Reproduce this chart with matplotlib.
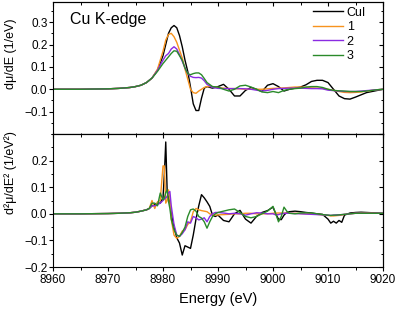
import numpy as np
import matplotlib
matplotlib.use('Agg')
import matplotlib.pyplot as plt
from matplotlib.ticker import MultipleLocator

plt.rcParams.update({
    'font.family': ['Liberation Sans', 'DejaVu Sans'],
    'font.size': 8.5,
    'axes.linewidth': 0.8,
})

# first derivative, dmu/dE
energy_top = [8960, 8965, 8970, 8972, 8974, 8975, 8976, 8977, 8978, 8979,
              8980, 8980.5, 8981, 8981.5, 8982, 8982.5, 8983, 8983.5, 8984, 8984.5,
              8985, 8985.5, 8986, 8986.5, 8987, 8987.5, 8988, 8989, 8990, 8991,
              8992, 8993, 8994, 8995, 8996, 8997, 8998, 8999, 9000, 9001,
              9002, 9003, 9004, 9005, 9006, 9007, 9008, 9009, 9010, 9011,
              9012, 9013, 9014, 9015, 9016, 9017, 9018, 9019, 9020]
cui_top = [0, 0, 0.002, 0.004, 0.008, 0.012, 0.018, 0.03, 0.05, 0.085,
           0.15, 0.20, 0.25, 0.275, 0.285, 0.275, 0.24, 0.19, 0.13, 0.08,
           0.01, -0.065, -0.095, -0.095, -0.04, 0.005, 0.012, 0.005, 0.012, 0.022,
           0.0, -0.03, -0.03, -0.005, 0.008, 0.0, -0.01, 0.018, 0.025, 0.012,
           -0.008, 0.0, 0.005, 0.01, 0.02, 0.035, 0.04, 0.04, 0.03, 0.0,
           -0.03, -0.042, -0.044, -0.035, -0.025, -0.015, -0.01, -0.005, 0.0]
s1_top = [0, 0, 0.002, 0.004, 0.008, 0.012, 0.018, 0.03, 0.05, 0.09,
          0.17, 0.22, 0.245, 0.25, 0.235, 0.21, 0.175, 0.14, 0.09, 0.045,
          0.0, -0.015, -0.018, -0.008, 0.0, 0.008, 0.012, 0.012, 0.008, 0.005,
          0.003, 0.003, 0.002, 0.0, 0.0, 0.0, 0.0, 0.002, 0.004, 0.005,
          0.006, 0.008, 0.01, 0.01, 0.008, 0.006, 0.005, 0.004, 0.0, -0.005,
          -0.01, -0.014, -0.015, -0.014, -0.012, -0.008, -0.005, -0.002, 0.0]
s2_top = [0, 0, 0.002, 0.004, 0.008, 0.012, 0.018, 0.03, 0.05, 0.085,
          0.13, 0.15, 0.16, 0.18, 0.19, 0.18, 0.155, 0.125, 0.095, 0.07,
          0.058, 0.053, 0.052, 0.053, 0.05, 0.038, 0.022, 0.008, 0.004, 0.003,
          0.003, 0.003, 0.003, 0.002, 0.0, -0.004, -0.008, -0.005, 0.0, 0.003,
          0.004, 0.005, 0.005, 0.005, 0.004, 0.003, 0.003, 0.002, -0.004, -0.006,
          -0.008, -0.01, -0.01, -0.01, -0.008, -0.006, -0.004, -0.002, 0.0]
s3_top = [0, 0, 0.002, 0.004, 0.008, 0.012, 0.018, 0.03, 0.05, 0.08,
          0.115, 0.13, 0.145, 0.16, 0.172, 0.17, 0.15, 0.13, 0.095, 0.07,
          0.065, 0.07, 0.073, 0.073, 0.065, 0.048, 0.03, 0.012, 0.01, 0.0,
          -0.008, 0.0, 0.015, 0.018, 0.01, 0.0, -0.012, -0.015, -0.01, -0.015,
          -0.005, 0.0, 0.003, 0.005, 0.01, 0.012, 0.012, 0.008, 0.0, -0.005,
          -0.007, -0.008, -0.01, -0.01, -0.01, -0.008, -0.005, -0.002, 0.0]

# second derivative, d2mu/dE2
energy_bot = [8960, 8965, 8970, 8972, 8974, 8975, 8976, 8977, 8977.5, 8978,
              8978.5, 8979, 8979.5, 8980, 8980.25, 8980.5, 8980.75, 8981, 8981.25, 8981.5,
              8982, 8982.5, 8983, 8983.5, 8984, 8984.5, 8985, 8985.5, 8986, 8986.5,
              8987, 8987.5, 8988, 8988.5, 8989, 8989.5, 8990, 8991, 8992, 8993,
              8994, 8995, 8996, 8997, 8998, 8999, 9000, 9000.5, 9001, 9001.5,
              9002, 9002.5, 9003, 9004, 9005, 9006, 9007, 9008, 9009, 9010,
              9010.5, 9011, 9011.5, 9012, 9012.5, 9013, 9014, 9015, 9016, 9017,
              9018, 9019, 9020]
cui_bot = [0, 0, 0.001, 0.002, 0.004, 0.006, 0.01, 0.015, 0.02, 0.03,
           0.035, 0.04, 0.04, 0.06, 0.15, 0.27, 0.09, 0.06, 0.045, 0.0,
           -0.05, -0.09, -0.11, -0.155, -0.12, -0.125, -0.13, -0.08, -0.02, 0.03,
           0.072, 0.06, 0.045, 0.028, -0.005, -0.01, -0.005, -0.025, -0.03, 0.0,
           0.013, -0.02, -0.035, -0.01, 0.005, 0.012, 0.025, 0.0, -0.02, -0.022,
           -0.005, 0.005, 0.008, 0.01, 0.008, 0.005, 0.003, 0.0, -0.002, -0.02,
           -0.035, -0.028, -0.035, -0.025, -0.032, -0.005, 0.003, 0.005, 0.006, 0.005,
           0.004, 0.003, 0.002]
s1_bot = [0, 0, 0.001, 0.002, 0.004, 0.006, 0.01, 0.015, 0.02, 0.05,
          0.02, 0.045, 0.05, 0.18, 0.18, 0.04, 0.05, 0.09, 0.06, -0.02,
          -0.08, -0.092, -0.085, -0.065, -0.06, -0.04, -0.03, 0.008, 0.02, 0.015,
          0.012, 0.01, 0.008, 0.0, -0.004, -0.005, -0.004, -0.003, -0.002, 0.0,
          0.0, 0.002, 0.002, 0.0, 0.0, 0.0, 0.002, 0.003, 0.003, 0.003,
          0.003, 0.003, 0.002, 0.002, 0.001, 0.0, 0.0, -0.002, -0.004, -0.006,
          -0.008, -0.008, -0.007, -0.006, -0.005, -0.002, 0.0, 0.002, 0.003, 0.003,
          0.003, 0.002, 0.002]
s2_bot = [0, 0, 0.001, 0.002, 0.004, 0.006, 0.01, 0.015, 0.02, 0.03,
          0.03, 0.035, 0.04, 0.05, 0.055, 0.06, 0.065, 0.08, 0.084, 0.03,
          -0.04, -0.08, -0.085, -0.075, -0.06, -0.03, -0.035, -0.01, -0.015, -0.023,
          -0.02, -0.015, -0.03, -0.01, 0.0, 0.005, 0.005, 0.003, 0.0, 0.002,
          0.0, -0.005, 0.0, 0.004, 0.003, 0.0, 0.0, -0.004, -0.003, 0.0,
          0.002, 0.002, 0.002, 0.001, 0.0, -0.001, -0.002, -0.003, -0.004, -0.005,
          -0.006, -0.005, -0.004, -0.004, -0.003, -0.002, 0.0, 0.002, 0.002, 0.002,
          0.002, 0.002, 0.002]
s3_bot = [0, 0, 0.001, 0.002, 0.004, 0.006, 0.01, 0.015, 0.02, 0.04,
          0.04, 0.03, 0.078, 0.052, 0.06, 0.08, 0.09, 0.046, 0.02, -0.02,
          -0.06, -0.08, -0.085, -0.07, -0.05, -0.01, 0.015, 0.018, 0.01, -0.01,
          -0.016, -0.03, -0.054, -0.03, -0.01, 0.0, 0.005, 0.01, 0.015, 0.018,
          0.005, -0.01, -0.015, -0.01, 0.0, 0.01, 0.028, 0.0, -0.03, -0.01,
          0.025, 0.01, 0.002, 0.0, 0.003, 0.004, 0.003, 0.0, -0.003, -0.005,
          -0.006, -0.005, -0.005, -0.004, -0.003, -0.002, 0.0, 0.002, 0.002, 0.002,
          0.002, 0.002, 0.002]

labels = ['CuI', '1', '2', '3']
line_colors = ['black', '#F7931E', '#8A2BE2', '#2A8A2A']


def style_axes(ax, ymin, ymax, bottom_dir):
    ax.set_xlim(8960, 9020)
    ax.set_ylim(ymin, ymax)
    ax.xaxis.set_major_locator(MultipleLocator(10))
    ax.xaxis.set_minor_locator(MultipleLocator(5))
    ax.yaxis.set_major_locator(MultipleLocator(0.1))
    ax.yaxis.set_minor_locator(MultipleLocator(0.05))
    ax.tick_params(axis='y', which='both', direction='out', labelsize=8.5, pad=1)
    ax.tick_params(axis='x', which='both', direction=bottom_dir, labelsize=8.5, pad=2)
    ax.tick_params(which='major', length=3, width=0.8)
    ax.tick_params(which='minor', length=1.8, width=0.7)
    # top / right ticks point inward
    top = ax.secondary_xaxis('top')
    top.xaxis.set_major_locator(MultipleLocator(10))
    top.xaxis.set_minor_locator(MultipleLocator(5))
    top.tick_params(which='both', direction='in', labeltop=False)
    top.tick_params(which='major', length=3, width=0.8)
    top.tick_params(which='minor', length=1.8, width=0.7)
    right = ax.secondary_yaxis('right')
    right.yaxis.set_major_locator(MultipleLocator(0.1))
    right.yaxis.set_minor_locator(MultipleLocator(0.05))
    right.tick_params(which='both', direction='in', labelright=False)
    right.tick_params(which='major', length=3, width=0.8)
    right.tick_params(which='minor', length=1.8, width=0.7)


fig = plt.figure(figsize=(4.0, 3.12), dpi=100)
ax1 = fig.add_axes([0.1325, 0.5705, 0.825, 0.423])
ax2 = fig.add_axes([0.1325, 0.1442, 0.825, 0.4263])

top_series = [cui_top, s1_top, s2_top, s3_top]
bot_series = [cui_bot, s1_bot, s2_bot, s3_bot]
for i in range(4):
    ax1.plot(energy_top, top_series[i], color=line_colors[i], lw=1.0, label=labels[i])
    ax2.plot(energy_bot, bot_series[i], color=line_colors[i], lw=1.0)

style_axes(ax1, -0.2, 0.39, 'inout')
style_axes(ax2, -0.2, 0.3, 'out')
ax1.set_yticks([-0.1, 0.0, 0.1, 0.2, 0.3])
ax1.tick_params(axis='x', labelbottom=False)
ax2.set_yticks([-0.2, -0.1, 0.0, 0.1, 0.2])
ax1.yaxis.set_major_formatter(lambda v, p: f'{v:.1f}'.replace('-', '\u2212'))
ax2.yaxis.set_major_formatter(lambda v, p: f'{v:.1f}'.replace('-', '\u2212'))

ax1.text(0.0515, 0.871, 'Cu K-edge', transform=ax1.transAxes, fontsize=11.5, va='center')
ax1.legend(loc='upper left', bbox_to_anchor=(0.788, 0.965), frameon=False, fontsize=9,
           handlelength=2.4, handletextpad=0.3, labelspacing=0.2, borderpad=0, borderaxespad=0)

ax1.set_ylabel('d\u03bc/dE (1/eV)', fontsize=9)
ax2.set_ylabel('d\u00b2\u03bc/dE\u00b2 (1/eV\u00b2)', fontsize=9)
ax1.yaxis.set_label_coords(-0.108, 0.61)
ax2.yaxis.set_label_coords(-0.108, 0.71)
ax2.set_xlabel('Energy (eV)', fontsize=10.5, labelpad=4)

fig.savefig('out.png', dpi=100)
